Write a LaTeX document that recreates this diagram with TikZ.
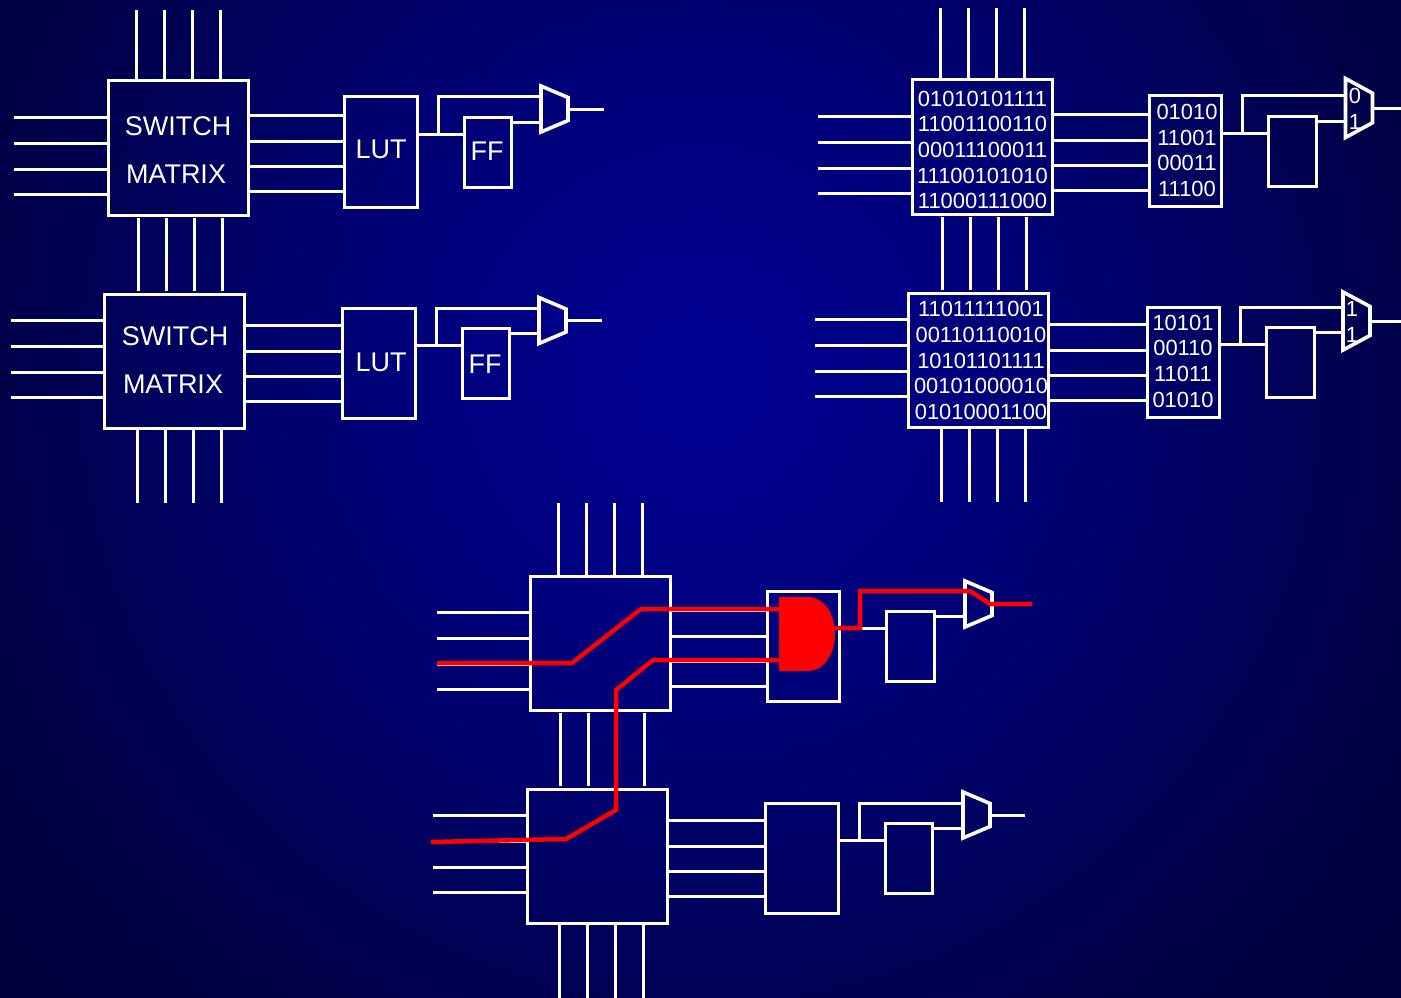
\documentclass[tikz,border=0pt]{standalone}
\usepackage{fontspec}
\setmainfont{Liberation Sans}
\usetikzlibrary{calc}
\definecolor{bga}{rgb}{0,0,0.58}
\definecolor{bgb}{rgb}{0,0,0.49}
\definecolor{bgc}{rgb}{0,0,0.44}
\definecolor{bgd}{rgb}{0,0,0.29}
\definecolor{bge}{rgb}{0,0,0.21}
\pgfdeclareradialshading{bgshade}{\pgfpoint{0bp}{0bp}}{
  color(0bp)=(bga);
  color(6.75bp)=(bgb);
  color(10bp)=(bgc);
  color(17.5bp)=(bgd);
  color(25bp)=(bge);
  color(50bp)=(bge)}
\tikzset{
  wire/.style={draw=white,line width=3pt,line cap=butt,line join=miter},
  redwire/.style={draw=red,line width=4.5pt,line join=miter},
  boxnode/.style={draw=white,line width=3pt,anchor=north west,inner sep=0pt,outer sep=0pt},
  lab/.style={text=white,font=\fontsize{27}{27}\selectfont,inner sep=0pt},
  bits/.style={text=white,font=\fontsize{21.9}{21.9}\selectfont,inner sep=0pt},
}
\newcommand{\lftshift}{0}
\newcommand{\rgtshift}{0}
% name, box x, box y, lut x, lut y, mux x, mux y, mux height, output end x
\newcommand{\fpgacell}[9]{
  \node[boxnode,minimum width=140pt,minimum height=134pt] (#1sw) at (#2,#3) {};
  \node[boxnode,minimum width=72.5pt,minimum height=110.5pt] (#1lut) at (#4,#5) {};
  \node[boxnode,minimum width=47.5pt,minimum height=70.5pt] (#1ff) at ($(#1lut.north west)+(119.5,20)$) {};
  \coordinate (#1mx) at (#6,#7);
  \draw[wire,line width=3.6pt] (#1mx) -- ++(27,{#8/4}) -- ++(0,{#8/2}) -- ++(-27,{#8/4}) -- cycle;
  \foreach \d in {36,62,88,113}
    \draw[wire] ($(#1sw.north west)+(-94,\d+\lftshift)$) -- ++(94,0);
  \foreach \d in {34,60,85,110}
    \draw[wire] ($(#1sw.north east)+(0,\d+\rgtshift)$) coordinate (t) -- (t -| #1lut.west);
  \coordinate (#1o) at ($(#1lut.north east)+(0,37)$);
  \coordinate (#1b) at ($(#1lut.north west)+(93.5,37)$);
  \draw[wire] (#1o) -- (#1o -| #1ff.west);
  \draw[wire] (#1b) -- ($(#1lut.north west)+(93.5,0)$) coordinate (t) -- (t -| #1mx);
  \draw[wire] ($(#1lut.north west)+(119.5+47.5,25)$) coordinate (t) -- (t -| #1mx);
  \draw[wire] ($(#1mx)+(27,{#8/2})$) coordinate (t) -- (#9,0 |- t);
}
\newcommand{\busdown}[3]{% node, offset, gap from the box edge
  \foreach \d in {0,28,56,84}
    \draw[wire] ($(#1.south west)+(#2+\d,#3)$) -- ++(0,73);
}
\newcommand{\busup}[3]{% node, offset, length
  \foreach \d in {0,28,56,84}
    \draw[wire] ($(#1.north west)+(#2+\d,0)$) -- ++(0,-#3);
}
\begin{document}
\begin{tikzpicture}[x=1pt,y=-1pt]
\useasboundingbox (0,0) rectangle (1401,998);
\begin{scope}
  \clip (0,0) rectangle (1401,998);
  \shade[shading=bgshade] (700,380) circle (1000);
\end{scope}

\fpgacell{a}{108}{81}{344.5}{97}{541}{86}{46}{604}
\fpgacell{c}{912}{80}{1149}{96}{1345.5}{78.5}{59}{1401}
\fpgacell{e}{530.5}{576}{767}{591}{965}{581}{46}{1032}
\renewcommand{\lftshift}{-10}
\renewcommand{\rgtshift}{-2.5}
\fpgacell{b}{104.5}{294}{342.5}{308}{539}{297.5}{46}{602}
\fpgacell{d}{908.5}{293}{1147}{307}{1343}{292}{58}{1401}
\fpgacell{f}{527}{789}{765.5}{803}{963}{792}{46}{1025}

\busup{asw}{28}{71}
\busdown{asw}{30}{3}
\busdown{bsw}{32.5}{2}
\busup{csw}{28}{72}
\busdown{csw}{30}{3}
\busdown{dsw}{32.5}{2}
\busup{esw}{27.5}{73}
\busdown{esw}{30}{3}
\busdown{fsw}{32}{2}

\node[lab] (t1) at (178,126) {SWITCH};
\node[lab] (t2) at (176,174) {MATRIX};
\node[lab] (t3) at (381,149) {LUT};
\node[lab] (t4) at (487,151) {FF};
\node[lab] (t5) at (175,336) {SWITCH};
\node[lab] (t6) at (173,384) {MATRIX};
\node[lab] (t7) at (381,362) {LUT};
\node[lab] (t8) at (485,364) {FF};

\node[bits] (c1) at (982.5,98.5) {01010101111};
\node[bits] (c2) at (982.5,124) {11001100110};
\node[bits] (c3) at (982.5,150) {00011100011};
\node[bits] (c4) at (982.5,176) {11100101010};
\node[bits] (c5) at (982.5,201) {11000111000};
\node[bits] (c6) at (1187,112) {01010};
\node[bits] (c7) at (1187,137.5) {11001};
\node[bits] (c8) at (1187,163) {00011};
\node[bits] (c9) at (1187,188.5) {11100};
\node[bits] (c10) at (1355,96) {0};
\node[bits] (c11) at (1355,122) {1};

\node[bits] (d1) at (981,309) {11011111001};
\node[bits] (d2) at (981,335) {00110110010};
\node[bits] (d3) at (981,361) {10101101111};
\node[bits] (d4) at (981,386) {00101000010};
\node[bits] (d5) at (981,412) {01010001100};
\node[bits] (d6) at (1183,323) {10101};
\node[bits] (d7) at (1183,348) {00110};
\node[bits] (d8) at (1183,374) {11011};
\node[bits] (d9) at (1183,400) {01010};
\node[bits] (d10) at (1352,309) {1};
\node[bits] (d11) at (1352,335) {1};

% highlighted route
\coordinate (r1) at (437,663);
\coordinate (r2) at (572,663);
\coordinate (r3) at (641,609);
\coordinate (g1) at (780,609);
\coordinate (r4) at (431,842);
\coordinate (r5) at (566,839);
\coordinate (r6) at (616,810);
\coordinate (r7) at (616,690);
\coordinate (r8) at (653,660);
\coordinate (g2) at (780,660);
\fill[red] (779,597) -- (808,597) .. controls (824,597) and (835,614) .. (835,634)
  .. controls (835,654) and (824,671) .. (808,671) -- (779,671) -- cycle;
\draw[redwire] (r1) -- (r2) -- (r3) -- (g1);
\draw[redwire] (r4) -- (r5) -- (r6) -- (r7) -- (r8) -- (g2);
\coordinate (o1) at (835,628);
\coordinate (o2) at (860,628);
\coordinate (o3) at (860,591);
\coordinate (o4) at (970,591);
\coordinate (o5) at (990,604);
\coordinate (o6) at (1032,604);
\draw[redwire] (o1) -- (o2) -- (o3) -- (o4) -- (o5) -- (o6);
\end{tikzpicture}
\end{document}
